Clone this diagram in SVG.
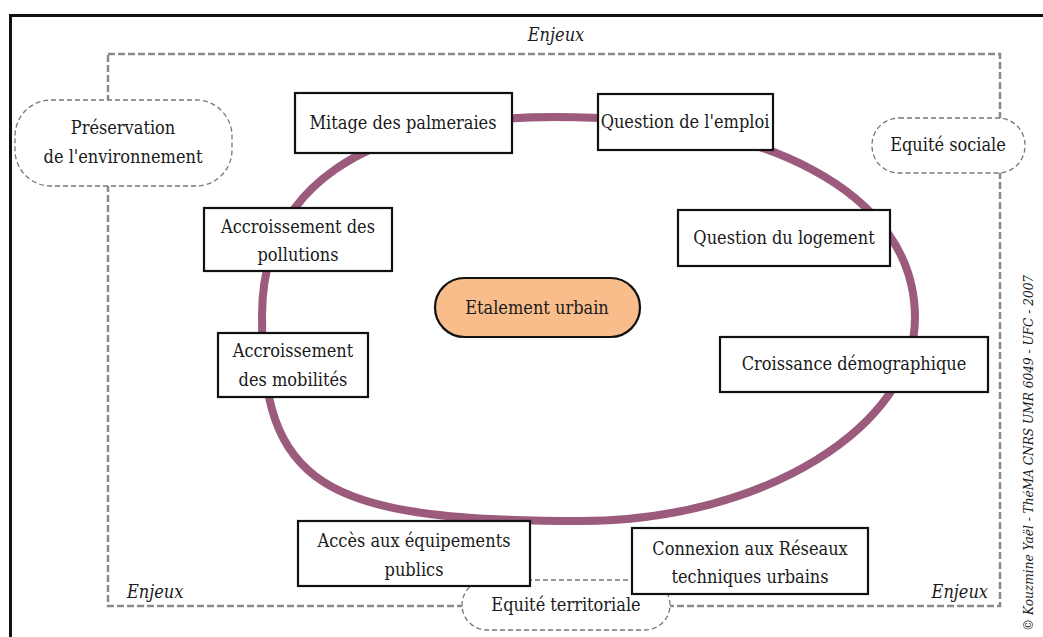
<svg xmlns="http://www.w3.org/2000/svg" width="1043" height="637" viewBox="0 0 1043 637">
<style>
text{fill:#1a1a1a;font-size:18px;text-anchor:middle}
.it{font-style:italic}
.box{fill:#fff;stroke:#111;stroke-width:2.2}
.pill{fill:#fff;stroke:#777;stroke-width:1.3;stroke-dasharray:5 3}
.dash{fill:none;stroke:#8a8a8a;stroke-width:2.5;stroke-dasharray:7 3}
</style>
<g font-family="DejaVu Serif Condensed, DejaVu Serif, serif" font-stretch="condensed">
<rect width="1043" height="637" fill="#fff"/>
<path d="M10.5 637 V15.5 H1043" fill="none" stroke="#111" stroke-width="3"/>
<rect class="dash" x="108" y="54" width="892" height="552"/>
<text class="it" x="556" y="41">Enjeux</text>
<text class="it" x="127" y="598" style="text-anchor:start">Enjeux</text>
<text class="it" x="988" y="598" style="text-anchor:end">Enjeux</text>
<text class="it" transform="translate(1033,631) rotate(-90)" style="text-anchor:start;font-size:13.5px">© Kouzmine Yaël - ThéMA CNRS UMR 6049 - UFC - 2007</text>
<g id="connectors">
<path d="M555 117 C760 117 915 190 915 318 C915 425 765 521 580 521 C320 521 262 485 262 316 C262 190 360 117 555 117 Z" fill="none" stroke="#9c5a7c" stroke-width="8"/>
</g>
<g id="preservation"><rect class="pill" x="15" y="100" width="217" height="86" rx="36"/><text x="123" y="134">Préservation</text><text x="123" y="163">de l'environnement</text></g>
<g id="equite-sociale"><rect class="pill" x="872" y="118" width="153" height="55" rx="27"/><text x="948" y="151">Equité sociale</text></g>
<g id="equite-territoriale"><rect class="pill" x="462" y="580" width="208" height="50" rx="25"/><text x="566" y="611">Equité territoriale</text></g>
<g id="etalement"><rect x="435" y="278" width="205" height="59" rx="29.5" fill="#f8bd8a" stroke="#111" stroke-width="2.2"/><text x="537" y="314">Etalement urbain</text></g>
<g id="mitage"><rect class="box" x="295" y="93" width="217" height="60"/><text x="403" y="129">Mitage des palmeraies</text></g>
<g id="emploi"><rect class="box" x="598" y="94" width="175" height="56"/><text x="685" y="128">Question de l'emploi</text></g>
<g id="logement"><rect class="box" x="678" y="210" width="212" height="56"/><text x="784" y="244">Question du logement</text></g>
<g id="croissance"><rect class="box" x="720" y="337" width="268" height="55"/><text x="854" y="370">Croissance démographique</text></g>
<g id="connexion"><rect class="box" x="632" y="528" width="236" height="66"/><text x="750" y="555">Connexion aux Réseaux</text><text x="750" y="583">techniques urbains</text></g>
<g id="acces"><rect class="box" x="298" y="521" width="232" height="65"/><text x="414" y="547">Accès aux équipements</text><text x="414" y="576">publics</text></g>
<g id="mobilites"><rect class="box" x="218" y="333" width="150" height="64"/><text x="293" y="357">Accroissement</text><text x="293" y="386">des mobilités</text></g>
<g id="pollutions"><rect class="box" x="204" y="208" width="188" height="63"/><text x="298" y="233">Accroissement des</text><text x="298" y="261">pollutions</text></g>
</g>
</svg>
